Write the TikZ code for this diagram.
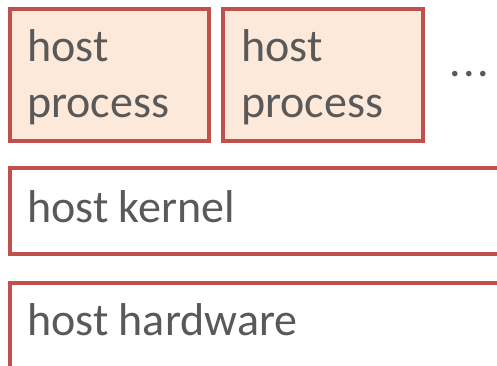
\documentclass[tikz,border=0pt]{standalone}
\usepackage{fontspec}
\setmainfont{Carlito}
\definecolor{edge}{HTML}{C0504D}
\definecolor{peach}{HTML}{FDE9D9}
\definecolor{ink}{HTML}{595959}
\begin{document}
\begin{tikzpicture}[x=1pt,y=-1pt,
  frame/.style={draw=edge, line width=4pt, rectangle, inner sep=0pt, outer sep=0pt, anchor=north west},
  procbox/.style={frame, fill=peach},
  layerbox/.style={frame, fill=white},
  lbl/.style={text=ink, inner sep=0pt, align=left,
    font=\fontsize{46}{55.5}\selectfont}]
\useasboundingbox (0,0) rectangle (497,366);
\clip (0,0) rectangle (497,366);
% process boxes
\node[procbox, minimum width=199pt, minimum height=132pt] (p1) at (10,9) {};
\node[procbox, minimum width=200pt, minimum height=132pt] (p2) at (223,9) {};
\node[lbl, anchor=base west] (t1) at (27,62) {host};
\node[lbl, anchor=base west] (t1b) at (27,117.5) {process};
\node[lbl, anchor=base west] (t2) at (241,62) {host};
\node[lbl, anchor=base west] (t2b) at (241,117.5) {process};
\node[lbl, anchor=base west] (dots) at (449,77) {.\kern2.5pt.\kern2.5pt.};
% layer boxes
\node[layerbox, minimum width=520pt, minimum height=86pt] (k) at (10,168) {};
\node[lbl, anchor=base west] (tk) at (27,222) {host kernel};
\node[layerbox, minimum width=520pt, minimum height=110pt] (h) at (10,283) {};
\node[lbl, anchor=base west] (th) at (27,335) {host hardware};
\end{tikzpicture}
\end{document}
